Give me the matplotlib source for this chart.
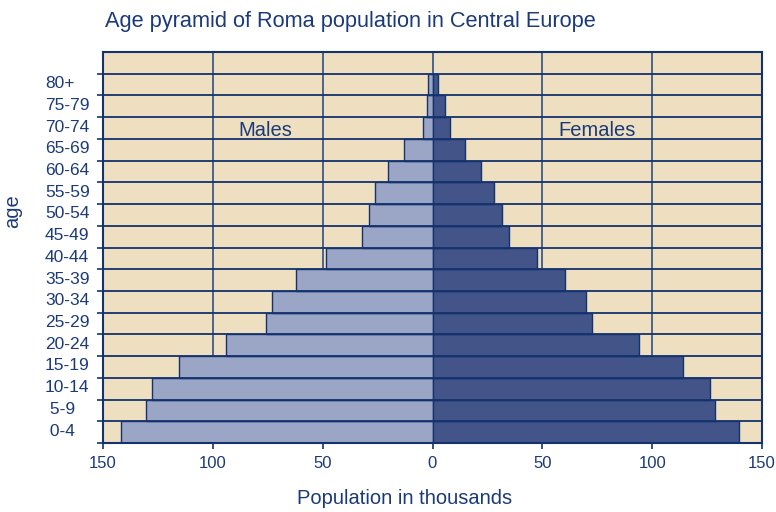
import numpy as np
import matplotlib.pyplot as plt
from matplotlib.ticker import FixedLocator, FuncFormatter
from matplotlib.transforms import ScaledTranslation

# age groups, bottom to top (Excel padded the short ones with a space)
age_groups = [' 0-4', ' 5-9', '10-14', '15-19', '20-24', '25-29', '30-34', '35-39',
              '40-44', '45-49', '50-54', '55-59', '60-64', '65-69', '70-74',
              '75-79', '80+']
# population in thousands
males = [141.7, 130.6, 127.9, 115.5, 94.2, 75.6, 73.0, 62.2,
         48.6, 32.0, 28.7, 26.4, 20.3, 13.1, 4.5, 2.7, 1.9]
females = [139.7, 128.8, 126.2, 114.0, 94.1, 72.7, 70.0, 60.5,
           47.5, 34.7, 31.7, 28.2, 22.0, 15.0, 8.0, 5.9, 2.6]
x_ticks = [-150, -100, -50, 0, 50, 100, 150]

navy = '#14326e'
text_col = '#1b3a78'
male_col = '#9ba5c5'
female_col = '#425488'
bg_col = '#eedfc0'

plt.rcParams['font.family'] = ['Liberation Sans', 'DejaVu Sans']

fig = plt.figure(figsize=(7.76, 5.12), dpi=100)
ax = fig.add_axes([103 / 776, 1 - 443 / 512, 659 / 776, 391 / 512])
ax.set_facecolor(bg_col)

y = np.arange(len(age_groups))
ax.set_xlim(-150, 150)
ax.set_ylim(-0.5, len(age_groups) + 0.5)

# vertical grid lines under the bars
for gx in x_ticks[1:-1]:
    ax.axvline(gx, color='#2f4f85', lw=1.2, zorder=1)

ax.barh(y, [-m for m in males], height=1.0, color=male_col,
        edgecolor=navy, linewidth=1.0, zorder=2)
ax.barh(y, females, height=1.0, color=female_col,
        edgecolor=navy, linewidth=1.0, zorder=2)

# row borders
for by in np.arange(-0.5, len(age_groups) + 0.5, 1.0):
    ax.axhline(by, color=navy, lw=1.3, zorder=3)

for sp in ax.spines.values():
    sp.set_color(navy)
    sp.set_linewidth(1.5)
    sp.set_zorder(4)

ax.set_xticks(x_ticks)
ax.xaxis.set_major_formatter(FuncFormatter(lambda v, p: f'{abs(int(v))}'))
ax.tick_params(axis='x', colors=navy, labelcolor=text_col, labelsize=12,
               length=4, width=1.2, direction='out', pad=5)

ax.set_yticks(y)
ax.set_yticklabels(age_groups, ha='left')
ax.yaxis.set_minor_locator(FixedLocator(np.arange(-0.5, len(age_groups) + 0.5, 1.0)))
ax.tick_params(axis='y', which='major', length=0, labelcolor=text_col,
               labelsize=12.5, pad=41.8)
ax.tick_params(axis='y', which='minor', length=4, width=1.2, colors=navy)
# labels sit a little above the row centres in the original
shift = ScaledTranslation(0, 2.5 / 100, fig.dpi_scale_trans)
for lbl in ax.get_yticklabels():
    lbl.set_transform(lbl.get_transform() + shift)

ax.text(-76, 13.88, 'Males', color=text_col, fontsize=14.5, ha='center', va='center', zorder=5)
ax.text(75, 13.88, 'Females', color=text_col, fontsize=14.5, ha='center', va='center', zorder=5)

fig.text(405 / 776, 1 - 499 / 512, 'Population in thousands', color=text_col,
         fontsize=14.5, ha='center', va='center')
fig.text(13 / 776, 1 - 211 / 512, 'age', rotation=90, color=text_col,
         fontsize=14.5, ha='center', va='center')
fig.text(105 / 776, 1 - 21 / 512, 'Age pyramid of Roma population in Central Europe',
         color=text_col, fontsize=15.7, ha='left', va='center')

fig.savefig('out.png', dpi=100)
